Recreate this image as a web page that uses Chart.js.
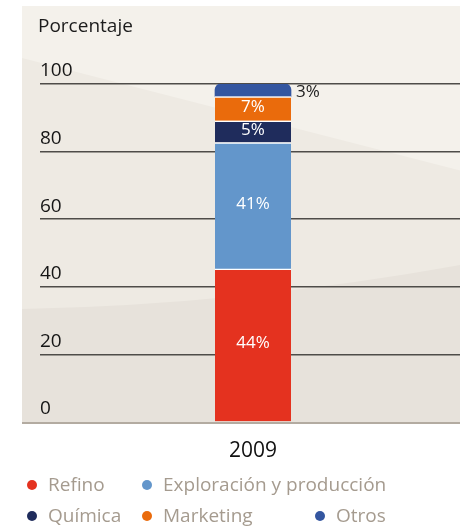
<!DOCTYPE html>
<html><head><meta charset="utf-8">
<script src="https://cdn.jsdelivr.net/npm/chart.js@4"></script>
<style>
html,body{margin:0;padding:0;background:#fff;overflow:hidden;width:460px;height:529px}
#wrap{position:relative;width:466px;height:529px}
canvas{position:absolute;left:0;top:0}
#title{position:absolute;left:38px;top:16px;font-family:'Open Sans',sans-serif;font-size:19px;color:#1c1c1c;line-height:1;white-space:nowrap}
.leg{position:absolute;font-family:'Open Sans',sans-serif;font-size:19px;color:#a59b8f;white-space:nowrap;line-height:1}
.dot{position:absolute;width:10px;height:10px;border-radius:50%}
</style>
</head><body>
<div id="wrap">
<canvas id="c" width="466" height="529"></canvas>
<div id="title">Porcentaje</div>
<div id="legend"></div>
</div>
<script>
const categories = ['2009'];
const seriesNames = ['Refino', 'Exploración y producción', 'Química', 'Marketing', 'Otros'];
const seriesValues = [45.3, 37.4, 6.4, 7.2, 3.7];
const valueLabels = ['44%', '41%', '5%', '7%', '3%'];
const yTicks = [0, 20, 40, 60, 80, 100];

const seriesColors = ['#e4321f', '#6396cb', '#1f2c5c', '#ea6b0c', '#3456a0'];
const legendSlots = [[32, 485], [147, 485], [32, 516], [147, 516], [320, 516]];

Chart.defaults.font.family = "'Open Sans', sans-serif";

const bgPlugin = {
  id: 'bg',
  beforeDraw(chart) {
    const ctx = chart.ctx;
    ctx.save();
    ctx.fillStyle = '#f4f1eb';
    ctx.fillRect(22, 6, 444, 418);
    ctx.fillStyle = '#eeeae3';
    ctx.beginPath();
    ctx.moveTo(22, 58); ctx.lineTo(466, 172); ctx.lineTo(466, 424); ctx.lineTo(22, 424);
    ctx.closePath(); ctx.fill();
    ctx.fillStyle = '#e7e2db';
    ctx.beginPath();
    ctx.moveTo(22, 309); ctx.quadraticCurveTo(240, 305, 466, 264); ctx.lineTo(466, 424); ctx.lineTo(22, 424);
    ctx.closePath(); ctx.fill();
    ctx.restore();
  },
  beforeDatasetsDraw(chart) {
    const ctx = chart.ctx;
    const y = chart.scales.y.getPixelForValue(0);
    ctx.save();
    ctx.fillStyle = '#b3aba1';
    ctx.fillRect(22, y, 444, 2);
    ctx.restore();
  },
  afterDatasetsDraw(chart) {
    const ctx = chart.ctx;
    ctx.save();
    ctx.textBaseline = 'middle';
    chart.data.datasets.forEach((ds, i) => {
      const el = chart.getDatasetMeta(i).data[0];
      const lbl = valueLabels[i];
      if (i === chart.data.datasets.length - 1) {
        ctx.fillStyle = '#222';
        ctx.font = "17px 'Open Sans', sans-serif";
        ctx.textAlign = 'left';
        ctx.fillText(lbl, el.x + el.width / 2 + 5, el.y + 8);
      } else {
        ctx.fillStyle = '#ffffff';
        ctx.font = "17px 'Open Sans', sans-serif";
        ctx.textAlign = 'center';
        ctx.fillText(lbl, el.x, (el.y + el.base) / 2 - 2);
      }
    });
    ctx.restore();
  }
};

const datasets = seriesNames.map((name, i) => ({
  label: name,
  data: [seriesValues[i]],
  backgroundColor: seriesColors[i],
  borderColor: '#ffffff',
  borderWidth: i === seriesNames.length - 1 ? 0 : {top: 1.5, right: 0, bottom: 0, left: 0},
  borderRadius: i === seriesNames.length - 1 ? {topLeft: 6, topRight: 6, bottomLeft: 0, bottomRight: 0} : 0,
  borderSkipped: false,
  barThickness: 76
}));

new Chart(document.getElementById('c'), {
  type: 'bar',
  data: { labels: categories, datasets },
  options: {
    responsive: false,
    animation: false,
    layout: { padding: { left: 40, top: 84, right: 0, bottom: 0 } },
    plugins: { legend: { display: false }, tooltip: { enabled: false } },
    scales: {
      x: {
        stacked: true,
        grid: { display: false },
        border: { display: false },
        ticks: { color: '#111', font: { size: 21 }, padding: 8 },
        afterFit(scale) { scale.height = 107; }
      },
      y: {
        stacked: true,
        min: 0, max: 100,
        afterBuildTicks(scale) { scale.ticks = yTicks.map(v => ({ value: v })); },
        afterFit(scale) { scale.width = 0; },
        border: { display: false },
        grid: {
          drawTicks: false,
          color: (c) => (c.tick && c.tick.value === 0) ? 'rgba(0,0,0,0)' : '#4e4c49',
          lineWidth: 1.6
        },
        ticks: { mirror: true, padding: 0, labelOffset: -13, color: '#151515', font: { size: 19 } }
      }
    }
  },
  plugins: [bgPlugin]
});

const legend = document.getElementById('legend');
seriesNames.forEach((name, i) => {
  const [cx, cy] = legendSlots[i];
  const d = document.createElement('div');
  d.className = 'dot';
  d.style.left = (cx - 5) + 'px';
  d.style.top = (cy - 5) + 'px';
  d.style.background = seriesColors[i];
  legend.appendChild(d);
  const t = document.createElement('div');
  t.className = 'leg';
  t.style.left = (cx + 16) + 'px';
  t.style.top = (cy - 10) + 'px';
  t.textContent = name;
  legend.appendChild(t);
});
</script>
</body></html>
